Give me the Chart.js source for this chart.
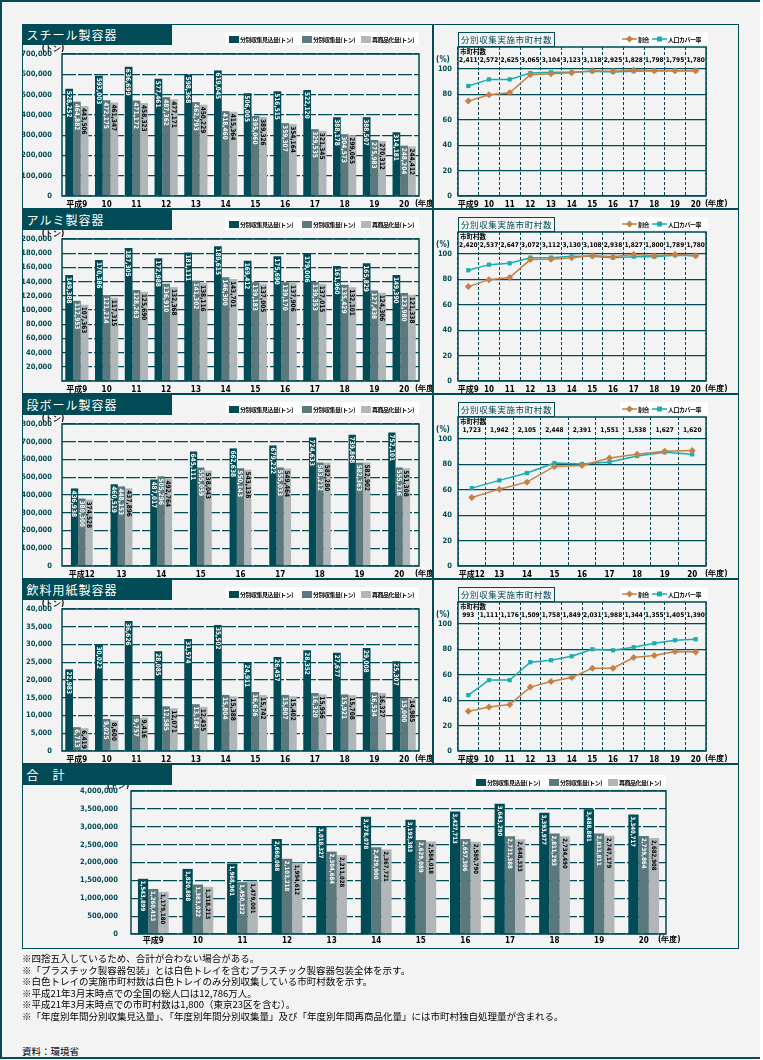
<!DOCTYPE html>
<html lang="ja">
<head>
<meta charset="UTF-8">
<title>容器包装 分別収集・再商品化の実績</title>
<script src="https://cdn.jsdelivr.net/npm/chart.js@4"></script>
<style>
	body,html{margin:0;padding:0;background:#fff;}
	#page{position:absolute;left:0;top:0;width:760px;height:1059px;box-sizing:border-box;background:#f3f3f3;
		border-left:2px solid #004b55;border-top:2px solid #004b55;border-bottom:2px solid #004b55;
		font-family:"Noto Sans CJK JP",sans-serif;}
	.sec{position:absolute;left:20px;width:717px;height:185px;box-sizing:border-box;border:1.5px solid #004b55;}
	.sec canvas{position:absolute;top:-1.5px;}
	.ttl{position:absolute;left:-1.5px;top:-1.5px;width:150px;height:21px;background:#004b55;color:#fff;
		font-size:12px;line-height:21px;padding-left:5px;box-sizing:border-box;letter-spacing:1px;}
	.divider{position:absolute;left:409px;top:0;width:1.5px;height:100%;background:#004b55;}
	.leg{position:absolute;height:13px;background:#fff;font-size:6px;font-weight:bold;line-height:13px;
		white-space:nowrap;letter-spacing:-0.5px;overflow:hidden;}
	.leg span{display:inline-block;vertical-align:middle;}
	.sw{width:10px;height:7px;margin:0 1px 0 4px;}
	.ltitle{position:absolute;left:435px;top:7px;width:97px;height:15px;box-sizing:border-box;border:1.5px solid #004b55;
		color:#004b55;font-size:8.5px;line-height:12px;text-align:center;letter-spacing:0.6px;white-space:nowrap;}
	.notes{position:absolute;left:20px;top:951px;font-size:9.5px;line-height:11.5px;color:#000;white-space:nowrap;}
	.src{position:absolute;left:20px;top:1042px;font-size:9.5px;color:#000;}
</style>
</head>
<body>
<div id="page">
	<div class="sec" style="top:22px">
		<canvas id="steelBar" width="410" height="195" style="left:-1.5px"></canvas>
		<canvas id="steelLine" width="307" height="195" style="left:408.5px"></canvas>
		<div class="ttl">スチール製容器</div>
		<div class="divider"></div>
		<div class="leg bar-leg" style="left:202px;top:7px;width:194px"></div>
		<div class="ltitle">分別収集実施市町村数</div>
		<div class="leg line-leg" style="left:597px;top:7px;width:88px"></div>
	</div>
	<div class="sec" style="top:207px">
		<canvas id="alumBar" width="410" height="195" style="left:-1.5px"></canvas>
		<canvas id="alumLine" width="307" height="195" style="left:408.5px"></canvas>
		<div class="ttl">アルミ製容器</div>
		<div class="divider"></div>
		<div class="leg bar-leg" style="left:202px;top:7px;width:194px"></div>
		<div class="ltitle">分別収集実施市町村数</div>
		<div class="leg line-leg" style="left:597px;top:7px;width:88px"></div>
	</div>
	<div class="sec" style="top:392px">
		<canvas id="cardBar" width="410" height="195" style="left:-1.5px"></canvas>
		<canvas id="cardLine" width="307" height="195" style="left:408.5px"></canvas>
		<div class="ttl">段ボール製容器</div>
		<div class="divider"></div>
		<div class="leg bar-leg" style="left:202px;top:7px;width:194px"></div>
		<div class="ltitle">分別収集実施市町村数</div>
		<div class="leg line-leg" style="left:597px;top:7px;width:88px"></div>
	</div>
	<div class="sec" style="top:577px">
		<canvas id="bevBar" width="410" height="195" style="left:-1.5px"></canvas>
		<canvas id="bevLine" width="307" height="195" style="left:408.5px"></canvas>
		<div class="ttl">飲料用紙製容器</div>
		<div class="divider"></div>
		<div class="leg bar-leg" style="left:202px;top:7px;width:194px"></div>
		<div class="ltitle">分別収集実施市町村数</div>
		<div class="leg line-leg" style="left:597px;top:7px;width:88px"></div>
	</div>
	<div class="sec" style="top:762px">
		<canvas id="totalBar" width="717" height="195" style="left:-1.5px"></canvas>
		<div class="ttl">合　計</div>
		<div class="leg bar-leg" style="left:449px;top:10px;width:194px"></div>
	</div>
	<div class="notes">
		※四捨五入しているため、合計が合わない場合がある。<br>
		※「プラスチック製容器包装」とは白色トレイを含むプラスチック製容器包装全体を示す。<br>
		※白色トレイの実施市町村数は白色トレイのみ分別収集している市町村数を示す。<br>
		※平成21年3月末時点での全国の総人口は12,786万人。<br>
		※平成21年3月末時点での市町村数は1,800（東京23区を含む）。<br>
		※「年度別年間分別収集見込量」、「年度別年間分別収集量」及び「年度別年間再商品化量」には市町村独自処理量が含まれる。
	</div>
	<div class="src">資料：環境省</div>
</div>
<script>
	// 年度
	var yearsH9 = ['平成9','10','11','12','13','14','15','16','17','18','19','20'];
	var yearsH12 = ['平成12','13','14','15','16','17','18','19','20'];

	// スチール製容器 (トン)
	var steelPlanned   = [528252,593003,636699,577461,598368,619045,506005,516515,522120,388178,388507,314181];
	var steelCollected = [464882,472175,471172,487362,462793,418460,395060,359307,329535,304573,275983,248204];
	var steelRecycled  = [443506,461347,458323,477171,450229,415364,389326,354164,321345,299065,270312,244412];
	var steelRate   = [74.7,79.7,81.3,95.5,96.3,97.1,98.7,98.2,99.2,98.7,98.7,98.7];
	var steelCover  = [86.6,91.8,91.8,96.8,97.4,97.4,98.2,97.6,98.2,98.7,98.7,98.7];
	var steelTowns  = [2411,2572,2625,3065,3104,3123,3118,2925,1828,1798,1795,1780];

	// アルミ製容器
	var alumPlanned   = [149388,170386,187305,172988,181111,189615,169412,175690,179006,161960,165829,149390];
	var alumCollected = [112953,121214,128263,136910,141302,146300,139183,139170,139353,135429,127438,123980];
	var alumRecycled  = [107363,117315,125690,132368,138116,143701,137005,137906,137015,132101,124306,121338];
	var alumRate  = [74.3,79.8,81.4,95.6,95.8,97.1,98.7,97.9,99.5,98.7,99.5,98.7];
	var alumCover = [87.2,91.6,92.7,97.1,97.1,98.2,98.2,97.1,97.9,97.9,99.0,98.7];
	var alumTowns = [2420,2537,2647,3072,3112,3130,3108,2938,1827,1800,1789,1780];

	// 段ボール製容器
	var cardPlanned   = [436938,460519,487017,645111,662638,679222,724633,739868,752101];
	var cardCollected = [380300,448153,505296,555059,550143,555033,583212,582363,555216];
	var cardRecycled  = [374528,437896,492764,538043,543138,549464,582280,582902,551308];
	var cardRate  = [53.9,60.5,66.0,78.4,79.2,85.0,87.9,90.3,91.0];
	var cardCover = [61.3,67.4,73.2,81.0,80.3,81.8,86.6,89.5,87.9];
	var cardTowns = [1723,1942,2105,2448,2391,1551,1538,1627,1620];

	// 飲料用紙製容器
	var bevPlanned   = [22983,30022,36626,28085,31574,35502,24911,26457,28352,27677,29008,25307];
	var bevCollected = [6713,9025,9757,12585,13184,15804,16626,15807,16320,15921,16534,15000];
	var bevRecycled  = [6419,8600,9416,12071,12435,15388,15742,15402,15956,15708,16327,14985];
	var bevRate  = [31.2,34.6,36.6,50.3,54.7,57.9,65.2,65.2,73.6,75.1,78.3,78.0];
	var bevCover = [44.0,55.8,55.8,69.9,71.5,74.6,80.1,79.3,81.7,84.8,87.2,88.0];
	var bevTowns = [993,1111,1176,1509,1758,1849,2031,1988,1344,1355,1405,1390];

	// 合計
	var totalPlanned   = [1543899,1820888,1968961,2660088,3018327,3278078,3193383,3427713,3643290,3393977,3488881,3340717];
	var totalCollected = [1260413,1383022,1450322,2103218,2304684,2429900,2629089,2657306,2731388,2811293,2813811,2739864];
	var totalRecycled  = [1179180,1318213,1479001,1994612,2211028,2367721,2584018,2580790,2648333,2734490,2747179,2682908];

	var DARK = '#004b55', MID = '#5b787c', LIGHT = '#b1b6b9';
	var ORANGE = '#c67f45', TEAL = '#15afb0';
	var COND = '"DejaVu Sans Condensed",sans-serif';
	var YFONT = {family:COND, size:7.5, weight:'bold'};
	var XFONT = {family:'"DejaVu Sans Condensed","Noto Sans CJK JP",sans-serif', size:8, weight:'bold'};

	// legends
	document.querySelectorAll('.bar-leg').forEach(function(el){
		el.innerHTML =
			'<span class="sw" style="background:'+DARK+'"></span><span>分別収集見込量(トン)</span>'+
			'<span class="sw" style="background:'+MID+';margin-left:9px"></span><span>分別収集量(トン)</span>'+
			'<span class="sw" style="background:'+LIGHT+';margin-left:6px"></span><span>再商品化量(トン)</span>';
	});
	document.querySelectorAll('.line-leg').forEach(function(el){
		el.innerHTML =
			'<svg width="15" height="8" style="vertical-align:middle;margin-left:2px"><line x1="0" y1="4" x2="15" y2="4" stroke="'+ORANGE+'" stroke-width="1.5"/><rect x="5" y="1.5" width="5" height="5" fill="'+ORANGE+'" transform="rotate(45 7.5 4)"/></svg><span style="margin-left:1px">割合</span>'+
			'<svg width="15" height="8" style="vertical-align:middle;margin-left:3px"><line x1="0" y1="4" x2="15" y2="4" stroke="'+TEAL+'" stroke-width="1.5"/><rect x="5" y="1.5" width="5" height="5" fill="'+TEAL+'"/></svg><span style="margin-left:1px">人口カバー率</span>';
	});

	// plot frame, unit label and (年度)
	var framePlugin = {
		id:'frame',
		afterDraw:function(chart, args, o){
			var ctx = chart.ctx, a = chart.chartArea;
			ctx.save();
			ctx.strokeStyle = DARK; ctx.lineWidth = 1.5;
			ctx.strokeRect(a.left, a.top, a.right - a.left, a.bottom - a.top);
			ctx.fillStyle = '#000';
			ctx.font = 'bold 8px ' + COND;
			ctx.textBaseline = 'middle';
			ctx.textAlign = 'left';
			ctx.fillText('(年度)', a.right + o.yx, a.bottom + o.yy);
			ctx.textAlign = 'center';
			var uy = o.unitAt100 ? chart.scales.y.getPixelForValue(100) - 9 : a.top + o.uy;
			ctx.fillStyle = o.unitAt100 ? DARK : '#000';
			ctx.fillText(o.unit, a.left + o.ux, uy);
			ctx.restore();
		}
	};

	// rotated value labels inside bars
	var barLabels = {
		id:'barLabels',
		afterDatasetsDraw:function(chart, args, o){
			var ctx = chart.ctx;
			ctx.save();
			ctx.font = 'bold ' + o.size + 'px ' + COND;
			chart.data.datasets.forEach(function(ds, i){
				chart.getDatasetMeta(i).data.forEach(function(bar, j){
					ctx.save();
					ctx.translate(bar.x, bar.y + 2);
					ctx.rotate(Math.PI / 2);
					ctx.fillStyle = i === 2 ? '#000' : '#fff';
					ctx.textAlign = 'left';
					ctx.textBaseline = 'middle';
					ctx.fillText(ds.data[j].toLocaleString('en-US'), 0, 0.5);
					ctx.restore();
				});
			});
			ctx.restore();
		}
	};

	// 市町村数 row above the 100% line
	var townsRow = {
		id:'towns',
		afterDraw:function(chart, args, o){
			var ctx = chart.ctx, a = chart.chartArea, x = chart.scales.x;
			ctx.save();
			ctx.fillStyle = '#000';
			ctx.textBaseline = 'middle';
			ctx.font = 'bold 6.5px "Noto Sans CJK JP",sans-serif';
			ctx.textAlign = 'left';
			ctx.fillText('市町村数', a.left + 2, a.top + 5);
			ctx.font = 'bold 6.5px ' + COND;
			ctx.textAlign = 'center';
			o.values.forEach(function(v, i){
				ctx.fillText(v.toLocaleString('en-US'), x.getPixelForValue(i), a.top + 13);
			});
			ctx.restore();
		}
	};

	function barChart(id, labels, planned, collected, recycled, o){
		return new Chart(document.getElementById(id), {
			type:'bar',
			data:{
				labels:labels,
				datasets:[
					{label:'分別収集見込量(トン)', data:planned, backgroundColor:DARK},
					{label:'分別収集量(トン)', data:collected, backgroundColor:MID},
					{label:'再商品化量(トン)', data:recycled, backgroundColor:LIGHT}
				]
			},
			options:{
				responsive:false,
				animation:false,
				layout:{padding:{top:o.top, right:o.right, left:0, bottom:0}},
				datasets:{bar:{categoryPercentage:o.cat, barPercentage:1, borderWidth:0}},
				plugins:{
					legend:{display:false},
					tooltip:{enabled:false},
					frame:{unit:'(トン)', ux:o.ux, uy:-5, yx:o.yx, yy:o.yy},
					barLabels:{size:o.fs}
				},
				scales:{
					x:{
						grid:{display:false, drawTicks:false},
						border:{display:false},
						ticks:{color:'#000', font:XFONT, padding:o.xpad, maxRotation:0, autoSkip:false},
						afterFit:function(s){ s.height = o.xh; }
					},
					y:{
						min:0, max:o.max,
						grid:{color:DARK, lineWidth:1.2, drawTicks:false},
						border:{display:false, dash:[14,2]},
						ticks:{stepSize:o.step, color:DARK, font:YFONT, padding:o.ypad,
							callback:function(v){ return (v === 0 && o.noZero) ? '' : v.toLocaleString('en-US'); }},
						afterFit:function(s){ s.width = o.yw; }
					}
				}
			},
			plugins:[framePlugin, barLabels]
		});
	}

	function lineChart(id, labels, rate, cover, towns){
		return new Chart(document.getElementById(id), {
			type:'line',
			data:{
				labels:labels,
				datasets:[
					{label:'割合', data:rate, borderColor:ORANGE, backgroundColor:ORANGE, borderWidth:1.5,
						pointStyle:'rectRot', pointRadius:3.5, pointBorderWidth:0},
					{label:'人口カバー率', data:cover, borderColor:TEAL, backgroundColor:TEAL, borderWidth:1.5,
						pointStyle:'rect', pointRadius:3, pointBorderWidth:0}
				]
			},
			options:{
				responsive:false,
				animation:false,
				layout:{padding:{top:23, right:33, left:0, bottom:0}},
				plugins:{
					legend:{display:false},
					tooltip:{enabled:false},
					frame:{unit:'(%)', ux:-15, unitAt100:true, yx:-1, yy:8},
					towns:{values:towns}
				},
				scales:{
					x:{
						offset:true,
						grid:{offset:true, color:DARK, lineWidth:1, drawTicks:false},
						border:{display:false, dash:[3,2]},
						ticks:{color:'#000', font:XFONT, padding:4, maxRotation:0, autoSkip:false},
						afterFit:function(s){ s.height = 23; }
					},
					y:{
						min:0, max:117.3,
						afterBuildTicks:function(s){ s.ticks = [0,20,40,60,80,100].map(function(v){ return {value:v}; }); },
						grid:{color:DARK, lineWidth:1.2, drawTicks:false},
						border:{display:false},
						ticks:{color:DARK, font:YFONT, padding:6},
						afterFit:function(s){ s.width = 26; }
					}
				}
			},
			plugins:[framePlugin, townsRow]
		});
	}

	var small = {top:30, right:13, yw:40, xh:23, xpad:4, ypad:10, ux:-9, yx:-4, yy:8, fs:6.5, cat:0.78};

	barChart('steelBar', yearsH9, steelPlanned, steelCollected, steelRecycled,
		Object.assign({}, small, {max:700000, step:100000}));
	barChart('alumBar', yearsH9, alumPlanned, alumCollected, alumRecycled,
		Object.assign({}, small, {max:200000, step:20000, noZero:true}));
	barChart('cardBar', yearsH12, cardPlanned, cardCollected, cardRecycled,
		Object.assign({}, small, {max:800000, step:100000, cat:0.55}));
	barChart('bevBar', yearsH9, bevPlanned, bevCollected, bevRecycled,
		Object.assign({}, small, {max:40000, step:5000}));
	barChart('totalBar', yearsH9, totalPlanned, totalCollected, totalRecycled,
		{top:27, right:73, yw:109, xh:25, xpad:2, ypad:13, ux:-13, yx:-8, yy:6, fs:6, cat:0.69, max:4000000, step:500000});

	lineChart('steelLine', yearsH9, steelRate, steelCover, steelTowns);
	lineChart('alumLine', yearsH9, alumRate, alumCover, alumTowns);
	lineChart('cardLine', yearsH12, cardRate, cardCover, cardTowns);
	lineChart('bevLine', yearsH9, bevRate, bevCover, bevTowns);
</script>
</body>
</html>
